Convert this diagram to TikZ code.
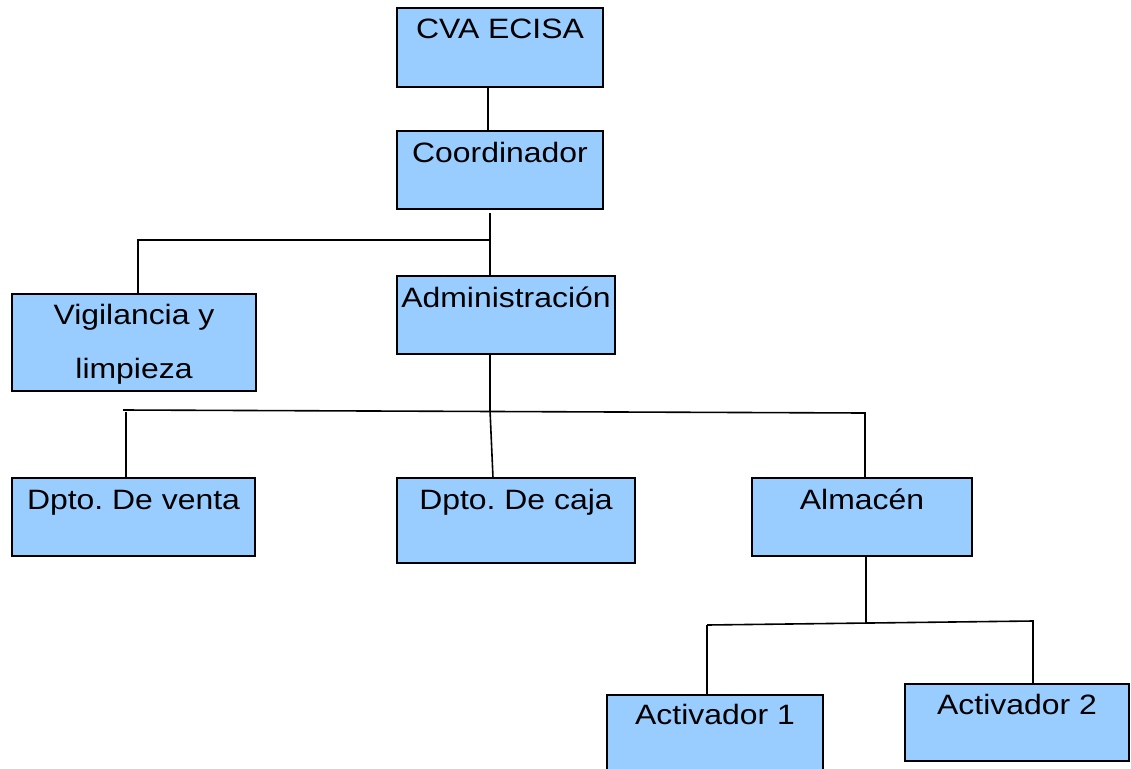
\documentclass[tikz,border=0pt]{standalone}
\usepackage{fontspec}
\setmainfont{Liberation Sans}[FakeStretch=1.14]
\usetikzlibrary{positioning}
\definecolor{azulcaja}{HTML}{99CCFF}
\frenchspacing

\begin{document}
\begin{tikzpicture}[x=1pt, y=-1pt, line width=1.6pt,
                    caja/.style 2 args={draw, fill=azulcaja, anchor=north west,
                        minimum width=#1, minimum height=#2, inner sep=0pt, outer sep=0pt},
                    texto/.style={anchor=base, yshift=-31pt, inner sep=0pt,
                        font=\fontsize{28}{34}\selectfont}]

    \useasboundingbox (0,0) rectangle (1131,768);

    % cajas
    \node[caja={206pt}{79pt}, label={[texto]north:CVA ECISA}] (cva) at (397,8) {};
    \node[caja={206pt}{78pt}, label={[texto]north:Coordinador}] (coord) at (397,131) {};
    \node[caja={244pt}{97pt}, label={[texto, yshift=1pt]north:Vigilancia y},
          label={[texto, yshift=-53pt]north:limpieza}] (vig) at (12,294) {};
    \node[caja={218pt}{78pt}, label={[texto]north:Administración}] (admin) at (397,276) {};
    \node[caja={243pt}{78pt}, label={[texto]north:Dpto. De venta}] (venta) at (12,478) {};
    \node[caja={238pt}{85pt}, label={[texto]north:Dpto. De caja}] (caja) at (397,478) {};
    \node[caja={220pt}{78pt}, label={[texto]north:Almacén}] (alm) at (752,478) {};
    \node[caja={216pt}{80pt}, label={[texto, yshift=2pt]north:Activador 1}] (act1) at (607,695) {};
    \node[caja={224pt}{77pt}, label={[texto, yshift=1pt]north:Activador 2}] (act2) at (905,684) {};

    % puntos de union
    \coordinate (r1) at (490,240);
    \coordinate (r1a) at (138,240);
    \coordinate (r2) at (490,410);
    \coordinate (r2a) at (123,410);
    \coordinate (r2c) at (126,410);
    \coordinate (r2b) at (865,413);
    \coordinate (r3) at (866,624);
    \coordinate (r3a) at (707,625);
    \coordinate (r3b) at (1033,621);

    % lineas
    \draw ([xshift=-12pt]cva.south) -- ([xshift=-12pt]coord.north);
    \draw ([xshift=-10pt,yshift=-4pt]coord.south) -- ([xshift=-16pt]admin.north);
    \draw (r1) -- (r1a) -- ([yshift=-2pt]r1a) -- (vig.north -| r1a);
    \draw ([xshift=-16pt]admin.south) -- (r2) -- ([xshift=-23pt]caja.north);
    \draw (r2a) -- (r2b) -- ([yshift=-3pt]r2b) -- (alm.north -| r2b);
    \draw ([yshift=-2pt]r2c) -- (venta.north -| r2c);
    \draw ([xshift=4pt]alm.south) -- (r3);
    \draw (r3a) -- (r3b) -- ([yshift=-2pt]r3b) -- (act2.north -| r3b);
    \draw (r3a) -- (act1.north -| r3a);

\end{tikzpicture}
\end{document}
